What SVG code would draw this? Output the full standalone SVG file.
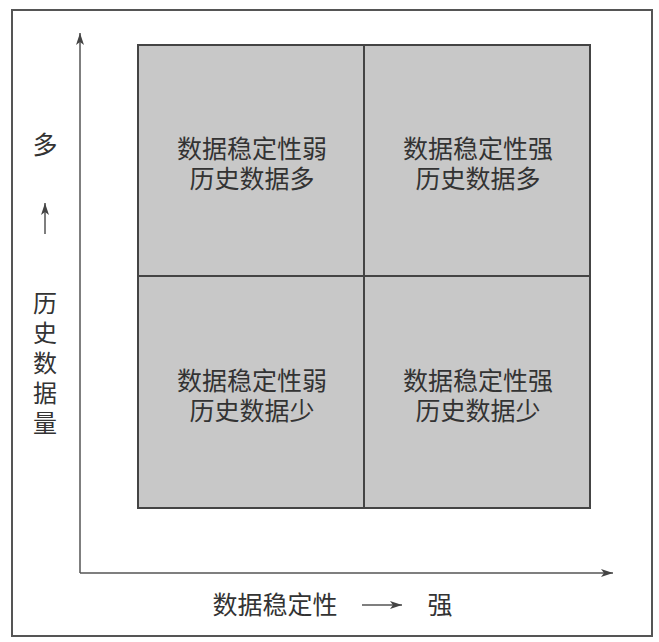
<svg xmlns="http://www.w3.org/2000/svg" width="659" height="642" viewBox="0 0 659 642">
<defs>
<style>
.t{font-family:"Noto Sans CJK SC","Liberation Sans",sans-serif;fill:#333;font-size:25px;text-anchor:middle}
.v{font-family:"Noto Sans CJK SC","Liberation Sans",sans-serif;fill:#333;font-size:24px;writing-mode:vertical-rl;letter-spacing:6px}
.q{fill:#c8c8c8;stroke:#444;stroke-width:2}
.ax{stroke:#555;stroke-width:1.5;fill:none}
</style>
<marker id="ah" viewBox="0 0 12 8" refX="12" refY="4" markerWidth="12" markerHeight="8" markerUnits="userSpaceOnUse" orient="auto"><path d="M0,0 L12,4 L0,8 L3,4 Z" fill="#444"/></marker>
</defs>
<rect width="659" height="642" fill="#fff"/>
<rect x="12" y="10" width="640" height="626" fill="none" stroke="#555" stroke-width="2"/>
<g id="q1"><rect class="q" x="138" y="45" width="226" height="231"/><text class="t" x="252" y="158">数据稳定性弱<tspan x="252" dy="30">历史数据多</tspan></text></g>
<g id="q2"><rect class="q" x="364" y="45" width="226" height="231"/><text class="t" x="478" y="158">数据稳定性强<tspan x="478" dy="30">历史数据多</tspan></text></g>
<g id="q3"><rect class="q" x="138" y="276" width="226" height="232"/><text class="t" x="252" y="390">数据稳定性弱<tspan x="252" dy="30">历史数据少</tspan></text></g>
<g id="q4"><rect class="q" x="364" y="276" width="226" height="232"/><text class="t" x="478" y="390">数据稳定性强<tspan x="478" dy="30">历史数据少</tspan></text></g>
<g id="connectors">
<line class="ax" x1="80" y1="573" x2="80" y2="33" marker-end="url(#ah)"/>
<line class="ax" x1="80" y1="573" x2="613" y2="573" marker-end="url(#ah)"/>
<line class="ax" x1="45" y1="234" x2="45" y2="203" marker-end="url(#ah)"/>
<line class="ax" x1="362" y1="605" x2="402" y2="605" marker-end="url(#ah)"/>
</g>
<g id="labels">
<text class="t" x="45" y="154">多</text>
<text class="v" x="45" y="291">历史数据量</text>
<text class="t" x="275" y="614">数据稳定性</text>
<text class="t" x="440" y="614">强</text>
</g>
</svg>
